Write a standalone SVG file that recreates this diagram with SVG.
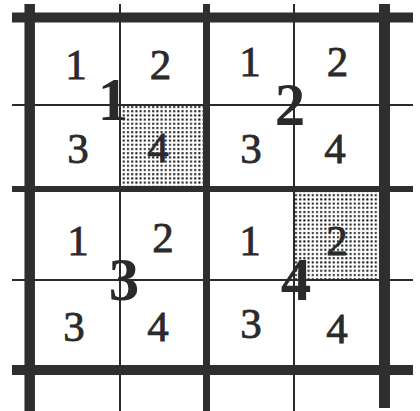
<svg xmlns="http://www.w3.org/2000/svg" width="420" height="411" viewBox="0 0 420 411">
  <defs>
    <pattern id="dots" x="0" y="0" width="4.2" height="4.2" patternUnits="userSpaceOnUse">
      <rect x="1" y="1" width="2" height="2" fill="#111111"/>
    </pattern>
    <style>
      .thin { stroke: #2a2a2a; stroke-width: 2; fill: none; }
      .thick { stroke: #2e2e2e; fill: none; }
      .d { font-family: "Liberation Serif", "Times New Roman", serif; font-size: 43px; fill: #2a2a2a; stroke: #2a2a2a; stroke-width: 0.8; text-anchor: middle; }
      .big { font-family: "Liberation Serif", "Times New Roman", serif; font-size: 61px; font-weight: bold; fill: #2a2a2a; text-anchor: middle; }
    </style>
  </defs>
  <rect width="420" height="411" fill="#ffffff"/>

  <g id="shading">
    <rect x="121" y="106" width="82" height="80" fill="url(#dots)"/>
    <rect x="295" y="192" width="85" height="87" fill="url(#dots)"/>
  </g>

  <g id="grid">
    <line class="thin" x1="120" y1="4" x2="120" y2="411"/>
    <line class="thin" x1="294" y1="4" x2="294" y2="411"/>
    <line class="thin" x1="12" y1="105" x2="413" y2="105"/>
    <line class="thin" x1="12" y1="280" x2="413" y2="280"/>
    <line class="thick" x1="12" y1="17.5" x2="413" y2="17.5" stroke-width="10"/>
    <line class="thick" x1="12" y1="189" x2="413" y2="189" stroke-width="6"/>
    <line class="thick" x1="12" y1="370" x2="413" y2="370" stroke-width="10"/>
    <line class="thick" x1="29.7" y1="4" x2="29.7" y2="411" stroke-width="10.5"/>
    <line class="thick" x1="206.5" y1="4" x2="206.5" y2="411" stroke-width="7"/>
    <line class="thick" x1="384.5" y1="4" x2="384.5" y2="408" stroke-width="11"/>
  </g>

  <g id="cell-labels">
    <text class="d" x="76" y="79">1</text>
    <text class="d" x="160.5" y="79">2</text>
    <text class="d" x="250" y="76">1</text>
    <text class="d" x="337.5" y="76">2</text>
    <text class="d" x="78" y="163">3</text>
    <text class="d" x="158" y="162">4</text>
    <text class="d" x="251" y="163">3</text>
    <text class="d" x="335" y="163">4</text>
    <text class="d" x="78" y="255">1</text>
    <text class="d" x="163" y="252">2</text>
    <text class="d" x="250" y="255">1</text>
    <text class="d" x="337" y="255">2</text>
    <text class="d" x="74" y="341">3</text>
    <text class="d" x="158" y="341">4</text>
    <text class="d" x="251" y="338">3</text>
    <text class="d" x="337" y="343">4</text>
  </g>

  <g id="block-labels">
    <text class="big" x="113" y="120">1</text>
    <text class="big" x="290" y="125">2</text>
    <text class="big" x="124" y="300">3</text>
    <text class="big" x="296" y="300">4</text>
  </g>
</svg>
